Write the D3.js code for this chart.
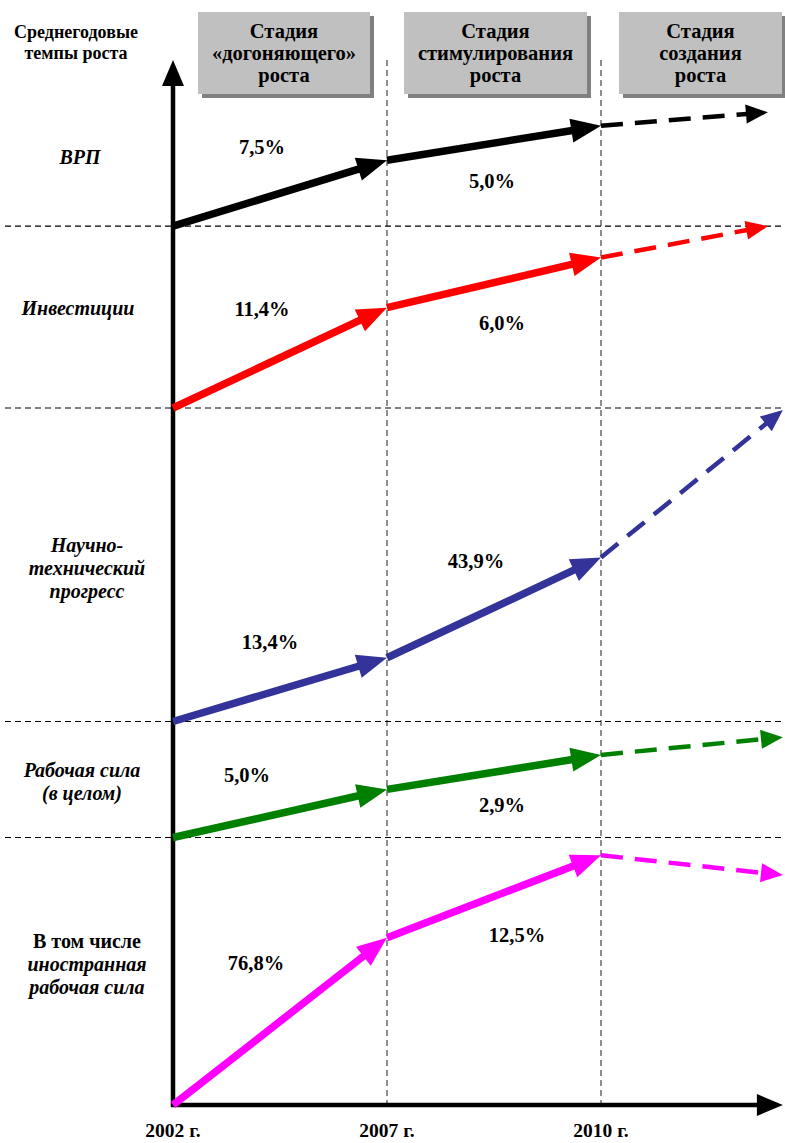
<!DOCTYPE html>
<html><head><meta charset="utf-8">
<script src="https://cdn.jsdelivr.net/npm/d3@7/dist/d3.min.js"></script>
<style>
html,body{margin:0;padding:0;background:#fff;}
svg{display:block;}
</style></head>
<body>
<svg id="chart" width="785" height="1143"></svg>
<script>
// ---- data ----
const yearLabels = ["2002 г.", "2007 г.", "2010 г."];
const stageTitles = [["Стадия","«догоняющего»","роста"],["Стадия","стимулирования","роста"],["Стадия","создания","роста"]];
const seriesNames = ["ВРП","Инвестиции","Научно-технический прогресс","Рабочая сила (в целом)","В том числе иностранная рабочая сила"];
const seriesColors = ["#000000","#ff0000","#333399","#008000","#ff00ff"];
// index levels (schematic) at 2002, 2007, 2010 and projection
const vrp        = [84.1, 90.4, 93.7, 95.0];
const invest     = [66.7, 76.3, 81.1, 84.1];
const ntp        = [36.7, 42.8, 52.4, 66.5];
const labour     = [25.6, 30.2, 33.5, 35.2];
const foreignLab = [0.0, 16.0, 23.9, 22.0];
const horizon    = [2.78, 2.78, 2.85, 2.85, 2.85]; // projection end (stage units)
const rates1 = ["7,5%","11,4%","13,4%","5,0%","76,8%"];   // 2002-2007
const rates2 = ["5,0%","6,0%","43,9%","2,9%","12,5%"];    // 2007-2010
const bandBounds = [84.1, 66.7, 36.7, 25.6];

const seriesValues = [vrp, invest, ntp, labour, foreignLab];

// ---- layout ----
const FONT = "Liberation Serif";
const svg = d3.select("#chart");
const x = d3.scaleLinear().domain([0, 3]).range([173, 815]);
const y = d3.scaleLinear().domain([0, 100]).range([1105, 60]);
const x0 = x(0), yBase = y(0);

function txt(g, xx, yy, t, size, italic){
  return g.append("text").attr("x",xx).attr("y",yy).attr("text-anchor","middle")
    .style("font-family",FONT).style("font-weight","bold").style("font-size",size+"px")
    .style("font-style",italic?"italic":"normal").attr("fill","#000").text(t);
}

// header boxes
const boxes = [[198,370],[404,587],[619,782]];
const hdr = svg.append("g");
stageTitles.forEach((lines,i)=>{
  const [l,r] = boxes[i];
  hdr.append("rect").attr("x",l+4).attr("y",16).attr("width",r-l).attr("height",82).attr("fill","#808080");
  hdr.append("rect").attr("x",l).attr("y",12).attr("width",r-l).attr("height",82).attr("fill","#c0c0c0");
  lines.forEach((t,j)=>txt(hdr,(l+r)/2,38+j*22,t,20.5,false));
});
// y-axis title
txt(svg,76,38,"Среднегодовые",18,false);
txt(svg,76,59,"темпы роста",18,false);

// vertical dashed stage lines
[1,2].forEach(i=>{
  svg.append("line").attr("x1",x(i)).attr("x2",x(i)).attr("y1",y(100)).attr("y2",yBase)
    .attr("stroke","#444").attr("stroke-width",1.2).attr("stroke-dasharray","6,4");
});
// horizontal dashed band lines
bandBounds.forEach(v=>{
  svg.append("line").attr("x1",5).attr("x2",785).attr("y1",y(v)).attr("y2",y(v))
    .attr("stroke","#000").attr("stroke-width",1.2).attr("stroke-dasharray","6,4");
});

function arrow(g, xa, ya, xb, yb, color, w, headLen, headHalf, dash){
  const dx = xb-xa, dy = yb-ya, L = Math.hypot(dx,dy);
  const ux = dx/L, uy = dy/L;
  const bx = xb-ux*headLen, by = yb-uy*headLen;
  const ln = g.append("line").attr("x1",xa).attr("y1",ya).attr("x2",bx+ux*1).attr("y2",by+uy*1)
    .attr("stroke",color).attr("stroke-width",w);
  if(dash) ln.attr("stroke-dasharray",dash);
  const px = -uy, py = ux;
  g.append("path").attr("d",`M${xb},${yb}L${bx+px*headHalf},${by+py*headHalf}L${bx-px*headHalf},${by-py*headHalf}Z`)
    .attr("fill",color);
}

// axes
const ax = svg.append("g");
arrow(ax, x0, yBase+2, x0, y(100), "#000", 4.5, 26, 11);
arrow(ax, x0-2, yBase, x(2.85), yBase, "#000", 4.5, 26, 11);

// series arrows
const sg = svg.append("g");
seriesValues.forEach((vals,i)=>{
  const c = seriesColors[i];
  const xs = [0,1,2,horizon[i]];
  arrow(sg, x(xs[0]), y(vals[0]), x(xs[1]), y(vals[1]), c, 7.5, 30, 12);
  arrow(sg, x(xs[1]), y(vals[1]), x(xs[2]), y(vals[2]), c, 7.5, 30, 12);
  arrow(sg, x(xs[2]), y(vals[2]), x(xs[3]), y(vals[3]), c, 4.5, 22, 9.5, "22,12");
});

// rate labels (layout positions)
const rate1Pos = [[262,154],[262,316],[270,649],[247,782],[256,970]];
const rate2Pos = [[492,188],[502,330],[476,568],[502,812],[517,942]];
rates1.forEach((t,i)=>txt(svg,rate1Pos[i][0],rate1Pos[i][1],t,20.5,false));
rates2.forEach((t,i)=>txt(svg,rate2Pos[i][0],rate2Pos[i][1],t,20.5,false));

// series name labels
const nameLines = [
  [["ВРП",true]],
  [["Инвестиции",true]],
  [["Научно-",true],["технический",true],["прогресс",true]],
  [["Рабочая сила",true],["(в целом)",true]],
  [["В том числе",false],["иностранная",true],["рабочая сила",true]]
];
const nameTop = [164, 315, 552, 777, 948];
const nameX = [80, 78, 87, 82, 87];
nameLines.forEach((lines,i)=>{
  lines.forEach((ln,j)=>txt(svg,nameX[i],nameTop[i]+j*22.8,ln[0],20,ln[1]));
});

// year labels
yearLabels.forEach((t,i)=>txt(svg,x(i),1137,t,19.5,false));
</script>
</body></html>
